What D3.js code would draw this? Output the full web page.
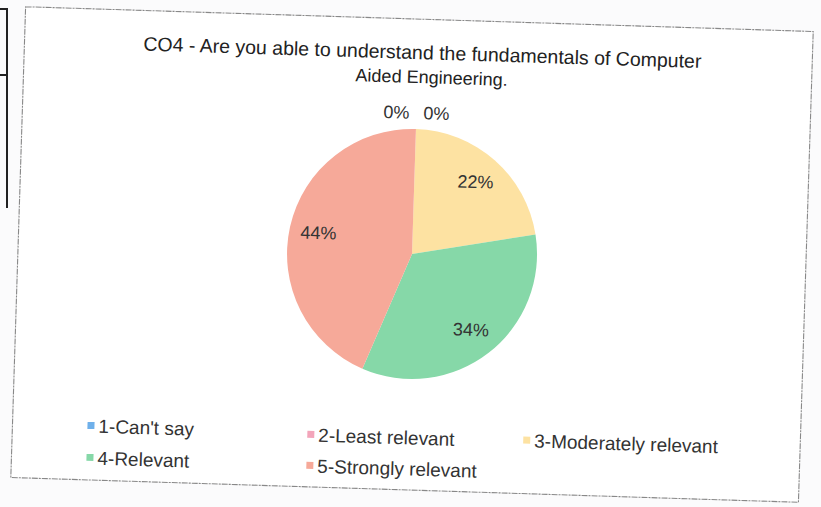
<!DOCTYPE html>
<html><head><meta charset="utf-8">
<script src="https://cdn.jsdelivr.net/npm/d3@7"></script>
<style>html,body{margin:0;padding:0;background:#fbfbfc;}svg{display:block;}</style>
</head><body>
<script>
const categories = ["1-Can't say","2-Least relevant","3-Moderately relevant","4-Relevant","5-Strongly relevant"];
const values = [0, 0, 22, 34, 44];
const colors = ["#6fb0ea","#f3a5ba","#fde2a2","#86d8a8","#f6a999"];
const titleLines = ["CO4 - Are you able to understand the fundamentals of Computer","Aided Engineering."];

const W = 821, H = 507;
const svg = d3.select("body").append("svg").attr("width", W).attr("height", H);

// other element's border at far left
svg.append("path").attr("d","M0,9H7V208M0,75H7").attr("fill","none").attr("stroke","#222").attr("stroke-width",2);

const g = svg.append("g").attr("transform","rotate(1.8,412,255)");
g.append("rect").attr("x",18).attr("y",19).attr("width",788).attr("height",471)
  .attr("fill","#fff").attr("stroke","#888").attr("stroke-width",1.1).attr("stroke-dasharray","6,1,2,1");

const font = "'Liberation Sans', Arial, sans-serif";
g.append("text").attr("y",59).attr("text-anchor","middle")
  .attr("font-family",font).attr("font-size",19.5).attr("fill","#222")
  .selectAll("tspan").data(titleLines).join("tspan")
  .attr("x",(d,i)=>i?426:416).attr("dy",(d,i)=>i?24:0)
  .attr("font-size",(d,i)=>i?18:19.5).text(d=>d);

const cx = 412, cy = 254, r = 125;
const pie = d3.pie().sort(null).value(d=>d);
const arcs = pie(values);
const arc = d3.arc().innerRadius(0).outerRadius(r);
const labelArc = d3.arc().innerRadius(96).outerRadius(96);
const pg = g.append("g").attr("transform",`translate(${cx},${cy})`);
pg.selectAll("path").data(arcs).join("path").attr("d",arc).attr("fill",(d,i)=>colors[i]);

const fmt = v => Math.round(v) + "%";
pg.selectAll("text.lbl").data(arcs).join("text").attr("class","lbl")
  .attr("font-family",font).attr("font-size",18).attr("fill","#333").attr("text-anchor","middle")
  .attr("dominant-baseline","central")
  .attr("transform",(d,i)=>{
    if (d.value === 0) {
      const a = d.startAngle;
      const x = Math.sin(a)*(r+16) + (i===0 ? -20 : 20);
      const y = -Math.cos(a)*(r+16);
      return `translate(${x},${y})`;
    }
    const c = labelArc.centroid(d);
    return `translate(${c[0]},${c[1]})`;
  })
  .text(d=>fmt(d.value));

// legend
const legendPos = [[97,436],[317,438],[533,437],[97,468],[317,469]];
const lg = g.append("g").selectAll("g").data(categories).join("g")
  .attr("transform",(d,i)=>`translate(${legendPos[i][0]},${legendPos[i][1]})`);
lg.append("rect").attr("x",-4).attr("y",-4).attr("width",7).attr("height",7).attr("fill",(d,i)=>colors[i]);
lg.append("text").attr("x",7).attr("y",0).attr("dominant-baseline","central")
  .attr("font-family",font).attr("font-size",19).attr("fill","#333").text(d=>d);
</script>
</body></html>
